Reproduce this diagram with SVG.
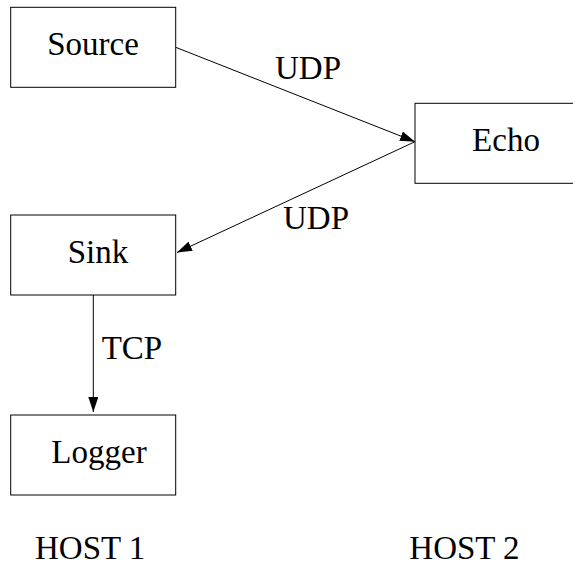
<svg xmlns="http://www.w3.org/2000/svg" width="573" height="577" viewBox="0 0 573 577">
<style>
.box{fill:#fff;stroke:#000;stroke-width:1}
.c{stroke:#000;stroke-width:1;fill:none}
</style>
<defs>
<marker id="ah" markerUnits="userSpaceOnUse" markerWidth="16" markerHeight="10" refX="15" refY="5" orient="auto">
<path d="M0,0 L15,5 L0,10 Z" fill="#000"/>
</marker>
</defs>
<rect width="573" height="577" fill="#fff"/>
<g id="connectors">
<line class="c" x1="175.7" y1="47.3" x2="415" y2="141.7" marker-end="url(#ah)"/>
<line class="c" x1="415" y1="141.7" x2="177" y2="252.5" marker-end="url(#ah)"/>
<line class="c" x1="93.3" y1="295" x2="93.3" y2="412" marker-end="url(#ah)"/>
</g>
<g id="labels" font-family="Liberation Serif" font-size="33" fill="#000">
<text x="275" y="78.5">UDP</text>
<text x="283" y="229">UDP</text>
<text x="101.7" y="358.5">TCP</text>
</g>
<g id="source">
<rect class="box" x="10.7" y="7.3" width="165" height="80"/>
<text x="93" y="55" text-anchor="middle" font-family="Liberation Serif" font-size="33">Source</text>
</g>
<g id="echo">
<rect class="box" x="415" y="103.3" width="170" height="80"/>
<text x="506" y="150.7" text-anchor="middle" font-family="Liberation Serif" font-size="33">Echo</text>
</g>
<g id="sink">
<rect class="box" x="10.7" y="215" width="165" height="80"/>
<text x="98" y="263.3" text-anchor="middle" font-family="Liberation Serif" font-size="33">Sink</text>
</g>
<g id="logger">
<rect class="box" x="10.7" y="415" width="165" height="80"/>
<text x="99" y="462.7" text-anchor="middle" font-family="Liberation Serif" font-size="33">Logger</text>
</g>
<g id="hosts" font-family="Liberation Serif" font-size="33">
<text x="35" y="559.3">HOST 1</text>
<text x="409.3" y="559.3">HOST 2</text>
</g>
</svg>
